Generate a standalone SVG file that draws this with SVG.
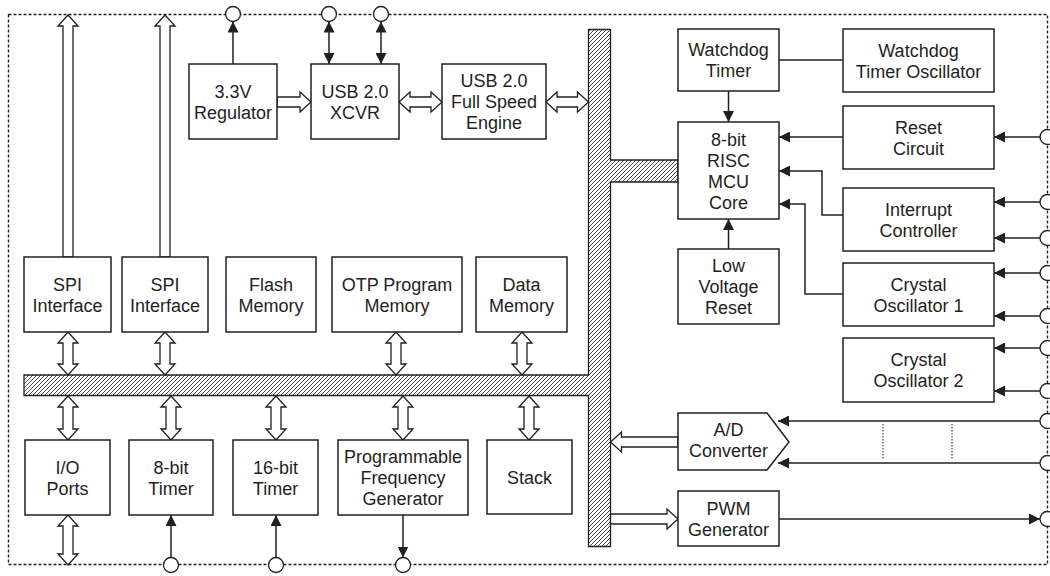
<svg xmlns="http://www.w3.org/2000/svg" width="1050" height="576" viewBox="0 0 1050 576">
<style>
.box{fill:#fff;stroke:#231f20;stroke-width:1.5}
.t{font-family:"Liberation Sans",Arial,sans-serif;font-size:18px;text-anchor:middle;fill:#231f20}
.ln{stroke:#231f20;stroke-width:1.5;fill:none}
.ha{fill:#fff;stroke:#231f20;stroke-width:1.3;stroke-linejoin:miter}
.pin{fill:#fff;stroke:#231f20;stroke-width:1.3}
.dot{stroke:#231f20;stroke-width:1;stroke-dasharray:1.5 1.5;fill:none}
</style>
<defs>
<marker id="ah" viewBox="0 0 11 11" refX="11" refY="5.5" markerWidth="11" markerHeight="11" markerUnits="userSpaceOnUse" orient="auto-start-reverse">
<path d="M0,0 L11,5.5 L0,11 Z" fill="#231f20"/>
</marker>
<pattern id="hatch" patternUnits="userSpaceOnUse" width="4" height="4">
<path d="M-1,1 L1,-1 M0,4 L4,0 M3,5 L5,3" stroke="#231f20" stroke-width="0.8"/>
</pattern>
</defs>
<rect width="1050" height="576" fill="#fff"/>
<rect x="8.5" y="14.5" width="1039" height="550" fill="none" stroke="#231f20" stroke-width="1.4" stroke-dasharray="3 2"/>

<g id="bus">
<polygon points="588.5,29.5 610.5,29.5 610.5,160 678,160 678,182 610.5,182 610.5,546.5 588.5,546.5 588.5,395.5 24,395.5 24,375 588.5,375" fill="url(#hatch)" stroke="#231f20" stroke-width="1.3"/>
</g>

<g id="connectors">
<polygon class="ha" points="68,15 78,26 73,26 73,257 63,257 63,26 58,26"/>
<polygon class="ha" points="165,15 175,26 170,26 170,257 160,257 160,26 155,26"/>
<polygon class="ha" points="277,97 300,97 300,92 311,102 300,112 300,107 277,107"/>
<polygon class="ha" points="399,102 410,92 410,97 431,97 431,92 442,102 431,112 431,107 410,107 410,112"/>
<polygon class="ha" points="546,102 557,92 557,97 577.5,97 577.5,92 588.5,102 577.5,112 577.5,107 557,107 557,112"/>
<polygon class="ha" points="68,332 78,343 73,343 73,364 78,364 68,375 58,364 63,364 63,343 58,343"/>
<polygon class="ha" points="165,332 175,343 170,343 170,364 175,364 165,375 155,364 160,364 160,343 155,343"/>
<polygon class="ha" points="396,332 406,343 401,343 401,364 406,364 396,375 386,364 391,364 391,343 386,343"/>
<polygon class="ha" points="522,332 532,343 527,343 527,364 532,364 522,375 512,364 517,364 517,343 512,343"/>
<polygon class="ha" points="68,396 78,407 73,407 73,429 78,429 68,440 58,429 63,429 63,407 58,407"/>
<polygon class="ha" points="171,396 181,407 176,407 176,429 181,429 171,440 161,429 166,429 166,407 161,407"/>
<polygon class="ha" points="276,396 286,407 281,407 281,429 286,429 276,440 266,429 271,429 271,407 266,407"/>
<polygon class="ha" points="403,396 413,407 408,407 408,429 413,429 403,440 393,429 398,429 398,407 393,407"/>
<polygon class="ha" points="529,396 539,407 534,407 534,429 539,429 529,440 519,429 524,429 524,407 519,407"/>
<polygon class="ha" points="68,515 78,526 73,526 73,554 78,554 68,565 58,554 63,554 63,526 58,526"/>
<polygon class="ha" points="610.5,442 621.5,432 621.5,437 678,437 678,447 621.5,447 621.5,452"/>
<polygon class="ha" points="610.5,514 667,514 667,509 678,519 667,529 667,524 610.5,524"/>

<line class="ln" x1="233" y1="64" x2="233" y2="21.5" marker-end="url(#ah)"/>
<line class="ln" x1="329" y1="64" x2="329" y2="21.5" marker-start="url(#ah)" marker-end="url(#ah)"/>
<line class="ln" x1="381" y1="64" x2="381" y2="21.5" marker-start="url(#ah)" marker-end="url(#ah)"/>
<line class="ln" x1="779" y1="60" x2="843" y2="60"/>
<line class="ln" x1="728.5" y1="91" x2="728.5" y2="122" marker-end="url(#ah)"/>
<line class="ln" x1="843" y1="137" x2="779" y2="137" marker-end="url(#ah)"/>
<polyline class="ln" points="843,215 822,215 822,171 779,171" marker-end="url(#ah)"/>
<polyline class="ln" points="843,294 805,294 805,204 779,204" marker-end="url(#ah)"/>
<line class="ln" x1="728.5" y1="249" x2="728.5" y2="219" marker-end="url(#ah)"/>
<line class="ln" x1="1040" y1="137" x2="994" y2="137" marker-end="url(#ah)"/>
<line class="ln" x1="1040" y1="202" x2="994" y2="202" marker-end="url(#ah)"/>
<line class="ln" x1="1040" y1="238" x2="994" y2="238" marker-end="url(#ah)"/>
<line class="ln" x1="1040" y1="273" x2="994" y2="273" marker-end="url(#ah)"/>
<line class="ln" x1="1040" y1="316" x2="994" y2="316" marker-end="url(#ah)"/>
<line class="ln" x1="1040" y1="348" x2="994" y2="348" marker-end="url(#ah)"/>
<line class="ln" x1="1040" y1="391" x2="994" y2="391" marker-end="url(#ah)"/>
<line class="ln" x1="1040" y1="421" x2="778" y2="421" marker-end="url(#ah)"/>
<line class="ln" x1="1040" y1="463" x2="778" y2="463" marker-end="url(#ah)"/>
<line class="dot" x1="883" y1="424" x2="883" y2="459"/>
<line class="dot" x1="952" y1="424" x2="952" y2="459"/>
<line class="ln" x1="779" y1="519" x2="1040" y2="519" marker-end="url(#ah)"/>
<line class="ln" x1="171" y1="557.5" x2="171" y2="515" marker-end="url(#ah)"/>
<line class="ln" x1="276" y1="557.5" x2="276" y2="515" marker-end="url(#ah)"/>
<line class="ln" x1="403" y1="515" x2="403" y2="557.5" marker-end="url(#ah)"/>

<circle class="pin" cx="233" cy="14" r="7.5"/>
<circle class="pin" cx="329" cy="14" r="7.5"/>
<circle class="pin" cx="381" cy="14" r="7.5"/>
<circle class="pin" cx="1047.5" cy="137" r="7.5"/>
<circle class="pin" cx="1047.5" cy="202" r="7.5"/>
<circle class="pin" cx="1047.5" cy="238" r="7.5"/>
<circle class="pin" cx="1047.5" cy="273" r="7.5"/>
<circle class="pin" cx="1047.5" cy="316" r="7.5"/>
<circle class="pin" cx="1047.5" cy="348" r="7.5"/>
<circle class="pin" cx="1047.5" cy="391" r="7.5"/>
<circle class="pin" cx="1047.5" cy="421" r="7.5"/>
<circle class="pin" cx="1047.5" cy="463" r="7.5"/>
<circle class="pin" cx="1047.5" cy="519" r="7.5"/>
<circle class="pin" cx="171" cy="565" r="7.5"/>
<circle class="pin" cx="276" cy="565" r="7.5"/>
<circle class="pin" cx="403" cy="565" r="7.5"/>
</g>

<g id="reg"><rect class="box" x="189" y="64" width="88" height="75"/><text class="t" x="233" y="97.5">3.3V</text><text class="t" x="233" y="118.5">Regulator</text></g>
<g id="xcvr"><rect class="box" x="311" y="64" width="88" height="75"/><text class="t" x="355" y="97.5">USB 2.0</text><text class="t" x="355" y="118.5">XCVR</text></g>
<g id="usbengine"><rect class="box" x="442" y="64" width="104" height="75"/><text class="t" x="494" y="87">USB 2.0</text><text class="t" x="494" y="108">Full Speed</text><text class="t" x="494" y="129">Engine</text></g>
<g id="wdt"><rect class="box" x="678" y="29" width="101" height="62"/><text class="t" x="728.5" y="56">Watchdog</text><text class="t" x="728.5" y="77">Timer</text></g>
<g id="wdto"><rect class="box" x="843" y="29" width="151" height="63"/><text class="t" x="918.5" y="56.5">Watchdog</text><text class="t" x="918.5" y="77.5">Timer Oscillator</text></g>
<g id="reset"><rect class="box" x="843" y="106" width="151" height="63"/><text class="t" x="918.5" y="133.5">Reset</text><text class="t" x="918.5" y="154.5">Circuit</text></g>
<g id="mcu"><rect class="box" x="678" y="122" width="101" height="97"/><text class="t" x="728.5" y="145.5">8-bit</text><text class="t" x="728.5" y="166.5">RISC</text><text class="t" x="728.5" y="187.5">MCU</text><text class="t" x="728.5" y="208.5">Core</text></g>
<g id="intc"><rect class="box" x="843" y="188" width="151" height="63"/><text class="t" x="918.5" y="215.5">Interrupt</text><text class="t" x="918.5" y="236.5">Controller</text></g>
<g id="xo1"><rect class="box" x="843" y="263" width="151" height="63"/><text class="t" x="918.5" y="290.5">Crystal</text><text class="t" x="918.5" y="311.5">Oscillator 1</text></g>
<g id="lvr"><rect class="box" x="678" y="249" width="101" height="75"/><text class="t" x="728.5" y="272">Low</text><text class="t" x="728.5" y="293">Voltage</text><text class="t" x="728.5" y="314">Reset</text></g>
<g id="xo2"><rect class="box" x="843" y="338" width="151" height="64"/><text class="t" x="918.5" y="366">Crystal</text><text class="t" x="918.5" y="387">Oscillator 2</text></g>
<g id="adc"><polygon class="box" points="678,413 767,413 789,442 767,470 678,470"/><text class="t" x="728.5" y="436">A/D</text><text class="t" x="728.5" y="457">Converter</text></g>
<g id="pwm"><rect class="box" x="678" y="491" width="101" height="55"/><text class="t" x="728.5" y="514.5">PWM</text><text class="t" x="728.5" y="535.5">Generator</text></g>
<g id="spi1"><rect class="box" x="24" y="257" width="87" height="75"/><text class="t" x="67.5" y="290.5">SPI</text><text class="t" x="67.5" y="311.5">Interface</text></g>
<g id="spi2"><rect class="box" x="122" y="257" width="86" height="75"/><text class="t" x="165" y="290.5">SPI</text><text class="t" x="165" y="311.5">Interface</text></g>
<g id="flash"><rect class="box" x="226" y="257" width="90" height="75"/><text class="t" x="271" y="290.5">Flash</text><text class="t" x="271" y="311.5">Memory</text></g>
<g id="otp"><rect class="box" x="332" y="257" width="130" height="75"/><text class="t" x="397" y="290.5">OTP Program</text><text class="t" x="397" y="311.5">Memory</text></g>
<g id="dmem"><rect class="box" x="476" y="257" width="91" height="75"/><text class="t" x="521.5" y="290.5">Data</text><text class="t" x="521.5" y="311.5">Memory</text></g>
<g id="io"><rect class="box" x="25" y="440" width="85" height="75"/><text class="t" x="67.5" y="473.5">I/O</text><text class="t" x="67.5" y="494.5">Ports</text></g>
<g id="t8"><rect class="box" x="129" y="440" width="84" height="75"/><text class="t" x="171" y="473.5">8-bit</text><text class="t" x="171" y="494.5">Timer</text></g>
<g id="t16"><rect class="box" x="233" y="440" width="85" height="75"/><text class="t" x="275.5" y="473.5">16-bit</text><text class="t" x="275.5" y="494.5">Timer</text></g>
<g id="pfg"><rect class="box" x="338" y="440" width="130" height="75"/><text class="t" x="403" y="463">Programmable</text><text class="t" x="403" y="484">Frequency</text><text class="t" x="403" y="505">Generator</text></g>
<g id="stack"><rect class="box" x="487" y="440" width="85" height="74"/><text class="t" x="529.5" y="483.5">Stack</text></g>
</svg>
